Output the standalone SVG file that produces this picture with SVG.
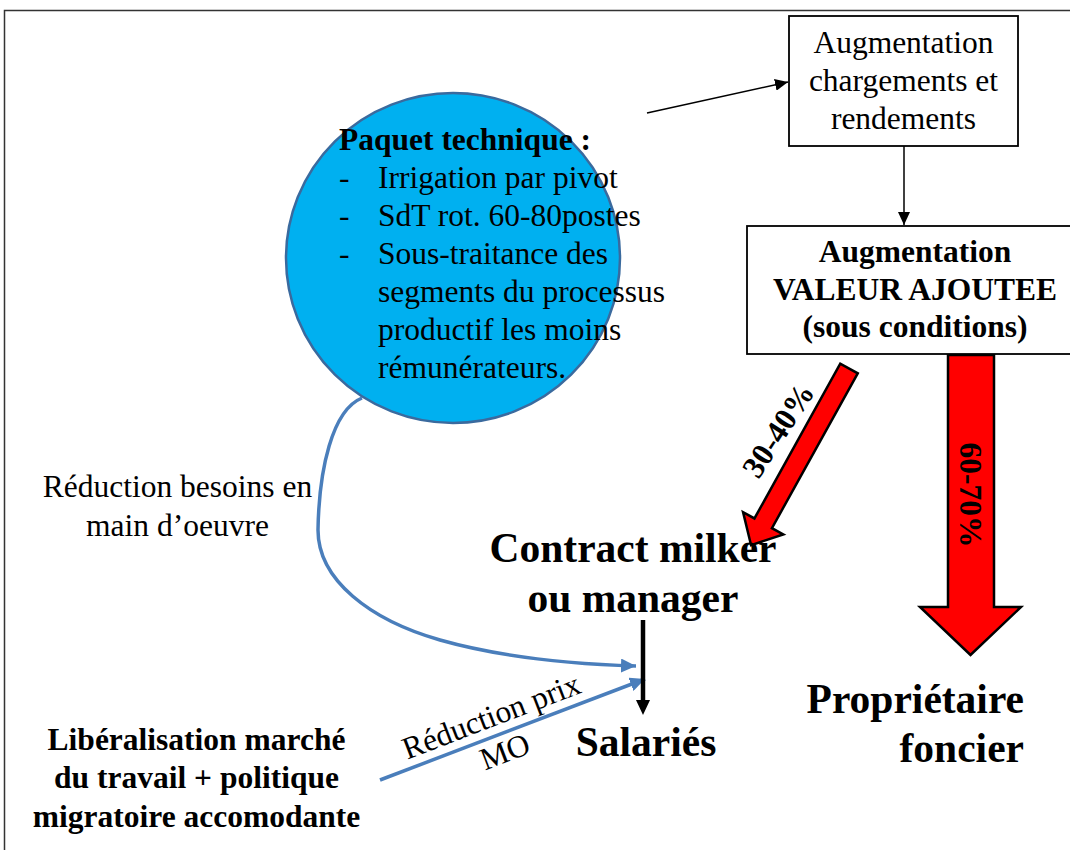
<svg xmlns="http://www.w3.org/2000/svg" width="1070" height="850" viewBox="0 0 1070 850">
<style>
text{font-family:"Liberation Serif","Times New Roman",serif;fill:#000;}
.r{font-size:31.5px;}
.b{font-size:31.5px;font-weight:bold;}
.big{font-size:41.5px;font-weight:bold;}
.m{text-anchor:middle;}
.box{fill:#fff;stroke:#000;stroke-width:1.8;}
.red{fill:#FF0000;stroke:#000;stroke-width:2.5;stroke-linejoin:miter;}
.blue{fill:none;stroke:#4A7EBB;stroke-width:3.5;}
.thin{fill:none;stroke:#000;stroke-width:1.5;}
</style>
<defs>
<marker id="ah" markerUnits="userSpaceOnUse" markerWidth="14" markerHeight="12" refX="13" refY="6" orient="auto">
<path d="M0,0 L13,6 L0,12 z" fill="#000"/>
</marker>
<marker id="bh" markerUnits="userSpaceOnUse" markerWidth="16" markerHeight="14" refX="15" refY="7" orient="auto">
<path d="M0,0 L15,7 L0,14 z" fill="#4A7EBB"/>
</marker>
</defs>
<rect x="0" y="0" width="1070" height="850" fill="#fff"/>
<rect x="4.5" y="10.5" width="1100" height="900" fill="none" stroke="#333" stroke-width="1.5"/>

<g id="connectors">
<line class="thin" x1="647" y1="113" x2="788" y2="82" marker-end="url(#ah)"/>
<line class="thin" x1="904" y1="146" x2="904" y2="225" marker-end="url(#ah)"/>
<path class="blue" d="M362,398 C332,410 319,470 318,530 C318,580 370,620 440,640 C500,657 570,664 636,666" marker-end="url(#bh)"/>
<line class="blue" x1="380" y1="780" x2="645" y2="679" marker-end="url(#bh)"/>
<line x1="643" y1="620" x2="643" y2="702" stroke="#000" stroke-width="4.5"/>
<path d="M636,700 L650,700 L643,715 z" fill="#000"/>
<polygon class="red" transform="translate(849,368.5) rotate(119)" points="0,-10 177,-10 177,-23 202,0 177,23 177,10 0,10"/>
<polygon class="red" points="948,355 994,355 994,607 1021,607 970.5,655 920,607 948,607"/>
<text class="b m" transform="translate(787,436) rotate(-57)">30-40%</text>
<text class="b m" transform="translate(960,495) rotate(90)">60-70%</text>
<text class="r m" transform="translate(495,726) rotate(-21)">Réduction prix<tspan x="0" y="38">MO</tspan></text>
</g>

<g id="paquet">
<ellipse cx="453" cy="258" rx="167" ry="165" fill="#00B0F0" stroke="#3A6A9E" stroke-width="2.5"/>
<text class="b" x="339" y="150">Paquet technique :</text>
<text class="r" x="339" y="188">-</text>
<text class="r" x="378" y="188">Irrigation par pivot</text>
<text class="r" x="339" y="226">-</text>
<text class="r" x="378" y="226">SdT rot. 60-80postes</text>
<text class="r" x="339" y="264">-</text>
<text class="r" x="378" y="264">Sous-traitance des</text>
<text class="r" x="378" y="302">segments du processus</text>
<text class="r" x="378" y="340">productif les moins</text>
<text class="r" x="378" y="378">rémunérateurs.</text>
</g>

<g id="augm-charg">
<rect class="box" x="789" y="16" width="229" height="130"/>
<text class="r m" x="903.5" y="53">Augmentation</text>
<text class="r m" x="903.5" y="91">chargements et</text>
<text class="r m" x="903.5" y="129">rendements</text>
</g>

<g id="valeur">
<rect class="box" x="747" y="226" width="340" height="128"/>
<text class="b m" x="915" y="262">Augmentation</text>
<text class="b m" x="915" y="300">VALEUR AJOUTEE</text>
<text class="b m" x="915" y="337">(sous conditions)</text>
</g>

<g id="contract">
<text class="big m" x="633" y="562">Contract milker</text>
<text class="big m" x="633" y="612">ou manager</text>
</g>

<g id="salaries">
<text class="big m" x="646" y="756">Salariés</text>
</g>

<g id="proprietaire">
<text class="big" x="1024" y="713" text-anchor="end">Propriétaire</text>
<text class="big" x="1024" y="762" text-anchor="end">foncier</text>
</g>

<g id="reduction-besoins">
<text class="r m" x="177.5" y="497">Réduction besoins en</text>
<text class="r m" x="177.5" y="536">main d’oeuvre</text>
</g>

<g id="liberalisation">
<text class="b m" x="196.5" y="750">Libéralisation marché</text>
<text class="b m" x="196.5" y="788">du travail + politique</text>
<text class="b m" x="196.5" y="827">migratoire accomodante</text>
</g>
</svg>
